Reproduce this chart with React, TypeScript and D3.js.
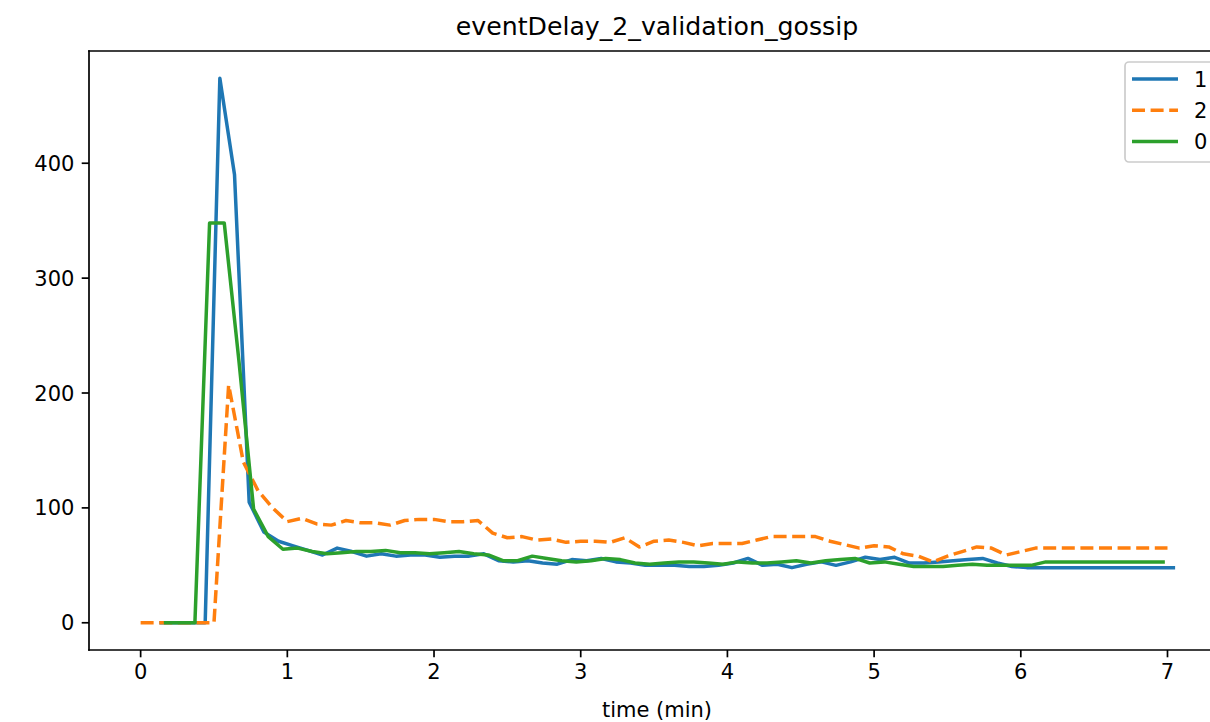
import React from "react";
import * as d3 from "d3";

const title = "eventDelay_2_validation_gossip";
const xLabel = "time (min)";
const xTicks = [0, 1, 2, 3, 4, 5, 6, 7];
const yTicks = [0, 100, 200, 300, 400];

// series "1" (blue): timestamps start 0.14 min, step 0.1 min
const s1Start = 0.14;
const s1Values = [
  0, 0, 0, 0, 474, 390, 105, 79, 71, 67, 63, 59, 65, 62, 58, 60, 58, 59, 59, 57,
  58, 58, 60, 54, 53, 54, 52, 51, 55, 54, 56, 53, 52, 50, 50, 50, 49, 49, 50, 52,
  56, 50, 51, 48, 51, 53, 50, 53, 57, 55, 57, 52, 52, 53, 54, 55, 56, 52, 49, 48,
  48, 48, 48, 48, 48, 48, 48, 48, 48, 48,
];

// series "2" (orange dashed): timestamps start 0 min, step 0.1 min
const s2Start = 0.0;
const s2Values = [
  0, 0, 0, 0, 0, 0, 207, 140, 115, 100, 88, 91, 86, 85, 89, 87, 87, 85, 89, 90,
  90, 88, 88, 89, 78, 74, 75, 72, 73, 70, 71, 71, 70, 74, 66, 71, 72, 70, 67, 69,
  69, 69, 72, 75, 75, 75, 75, 71, 68, 65, 67, 66, 60, 58, 53, 58, 62, 66, 65, 59,
  62, 65, 65, 65, 65, 65, 65, 65, 65, 65, 65,
];

// series "0" (green): timestamps start 0.17 min, step 0.1 min
const s0Start = 0.17;
const s0Values = [
  0, 0, 0, 348, 348, 228, 99, 75, 64, 65, 62, 60, 61, 62, 62, 63, 61, 61, 60, 61,
  62, 60, 59, 54, 54, 58, 56, 54, 53, 54, 56, 55, 52, 51, 52, 53, 53, 52, 51, 53,
  52, 52, 53, 54, 52, 54, 55, 56, 52, 53, 51, 49, 49, 49, 50, 51, 50, 50, 50, 50,
  53, 53, 53, 53, 53, 53, 53, 53, 53,
];

const step = 0.1;

const series = [
  { name: "1", start: s1Start, values: s1Values, color: "#1f77b4", dash: "" },
  { name: "2", start: s2Start, values: s2Values, color: "#ff7f0e", dash: "13,5.6" },
  { name: "0", start: s0Start, values: s0Values, color: "#2ca02c", dash: "" },
];

const W = 1210;
const H = 722;
const left = 89;
const right = 1225;
const top = 51;
const bottom = 650;
const font = "DejaVu Sans, sans-serif";
const lw = 3.5;

export default function App() {
  const x = d3.scaleLinear().domain([-0.352, 7.392]).range([left, right]);
  const y = d3.scaleLinear().domain([-23.7, 497.7]).range([bottom, top]);
  const line = d3
    .line<[number, number]>()
    .x((d) => x(d[0]))
    .y((d) => y(d[1]));

  return (
    <svg
      width={W}
      height={H}
      style={{ position: "absolute", left: 0, top: 0, background: "#fff" }}
      fontFamily={font}
    >
      <rect x={0} y={0} width={W} height={H} fill="#fff" />
      <defs>
        <clipPath id="plot">
          <rect x={left} y={top} width={right - left} height={bottom - top} />
        </clipPath>
      </defs>
      <g clipPath="url(#plot)">
        {series.map((s) => (
          <path
            key={s.name}
            d={line(s.values.map((v, i) => [s.start + i * step, v]))!}
            fill="none"
            stroke={s.color}
            strokeWidth={lw}
            strokeDasharray={s.dash || undefined}
            strokeLinejoin="round"
            strokeLinecap={s.dash ? "butt" : "square"}
          />
        ))}
      </g>
      {/* spines */}
      <line x1={left} x2={left} y1={top} y2={bottom} stroke="#000" strokeWidth={1.7} strokeLinecap="square" />
      <line x1={left} x2={right} y1={bottom} y2={bottom} stroke="#000" strokeWidth={1.7} strokeLinecap="square" />
      <line x1={left} x2={right} y1={top} y2={top} stroke="#000" strokeWidth={1.7} strokeLinecap="square" />
      <line x1={right} x2={right} y1={top} y2={bottom} stroke="#000" strokeWidth={1.7} />
      {/* x ticks */}
      {xTicks.map((t) => (
        <g key={"x" + t}>
          <line x1={x(t)} x2={x(t)} y1={bottom} y2={bottom + 7.3} stroke="#000" strokeWidth={1.7} />
          <text x={x(t)} y={679} textAnchor="middle" fontSize={21} fill="#000">
            {t}
          </text>
        </g>
      ))}
      {/* y ticks */}
      {yTicks.map((t) => (
        <g key={"y" + t}>
          <line x1={left - 7.3} x2={left} y1={y(t)} y2={y(t)} stroke="#000" strokeWidth={1.7} />
          <text x={left - 14.6} y={y(t)} dy="0.36em" textAnchor="end" fontSize={21} fill="#000">
            {t}
          </text>
        </g>
      ))}
      <text x={(left + right) / 2} y={717} textAnchor="middle" fontSize={21} fill="#000">
        {xLabel}
      </text>
      <text x={(left + right) / 2} y={35} textAnchor="middle" fontSize={25.2} fill="#000">
        {title}
      </text>
      {/* legend */}
      <g>
        <rect
          x={1125}
          y={62}
          width={120}
          height={100}
          rx={4}
          fill="#fff"
          fillOpacity={0.8}
          stroke="#cccccc"
          strokeWidth={1.7}
        />
        {series.map((s, i) => {
          const yy = 79 + i * 31.3;
          return (
            <g key={"lg" + s.name}>
              <line
                x1={1132}
                x2={1178}
                y1={yy}
                y2={yy}
                stroke={s.color}
                strokeWidth={lw}
                strokeDasharray={s.dash || undefined}
              />
              <text x={1194} y={yy} dy="0.36em" fontSize={21} fill="#000">
                {s.name}
              </text>
            </g>
          );
        })}
      </g>
    </svg>
  );
}
